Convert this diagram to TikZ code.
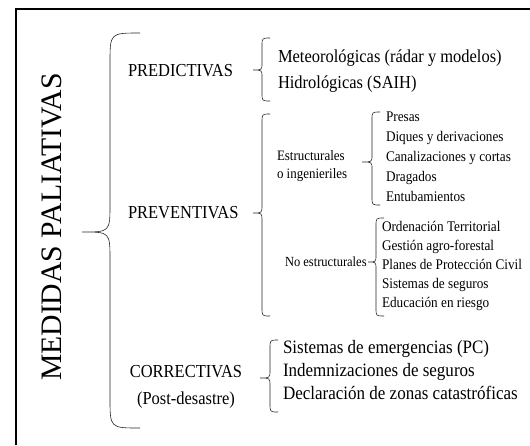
\documentclass[tikz,border=0pt]{standalone}
\usepackage{fontspec}
\setmainfont{Liberation Serif}
\newfontfamily\narrowserif[FakeStretch=0.9]{Liberation Serif}
\newcommand\fs[2]{\narrowserif\fontsize{#1}{#2}\selectfont}
% #1 tip x, #2 vertical x, #3 end x, #4 top y, #5 tip y, #6 bottom y, #7 curl size, #8 tip size
\newcommand\mybrace[8]{%
  \draw[bracestyle] (#3,#4) .. controls (#2,#4) .. (#2,#4+#7) -- (#2,#5-#8)
    .. controls (#2,#5) .. (#1,#5) .. controls (#2,#5) .. (#2,#5+#8)
    -- (#2,#6-#7) .. controls (#2,#6) .. (#3,#6);}
\begin{document}
\begin{tikzpicture}[x=1pt,y=-1pt,
  bracestyle/.style={line width=0.6pt,black!85},
  txt/.style={inner sep=0pt,outer sep=0pt,align=left,anchor=west},
  big/.style={txt,font=\fs{18.3}{26}},
  small/.style={txt,font=\fs{14.7}{20}}]
\useasboundingbox (0,0) rectangle (530,445);
\fill[white] (0,0) rectangle (530,445);
% frame
\draw[line width=1.3pt] (16,445) -- (16,9) -- (530,9);
% title
\node[inner sep=0pt,rotate=90,font=\fontsize{29.7}{32}\selectfont] (title) at (52,227) {MEDIDAS PALIATIVAS};
% main brace
\mybrace{82}{110}{140}{33}{232}{428}{30}{28}
% categories
\node[big] (pred) at (128,71) {PREDICTIVAS};
\node[big] (prev) at (128,213) {PREVENTIVAS};
\node[inner sep=0pt,align=center,font=\fs{18.3}{27}] (corr) at (186,387) {CORRECTIVAS\\(Post-desastre)};
% predictivas
\mybrace{253}{262}{270}{38}{70}{101}{8}{7}
\node[big] (predl) at (278,71) {Meteorológicas (rádar y modelos)\\Hidrológicas (SAIH)};
% preventivas
\mybrace{253}{262}{270}{114}{213}{316}{9}{8}
\node[txt,font=\fs{14.4}{18}] (estr) at (277,166) {Estructurales\\o ingenieriles};
\mybrace{362}{372}{380}{112}{162}{205}{8}{7}
\node[small] (estrl) at (386,157) {Presas\\Diques y derivaciones\\Canalizaciones y cortas\\Dragados\\Entubamientos};
\node[txt,font=\fs{13.9}{18}] (noestr) at (285,262) {No estructurales};
\mybrace{368}{376}{384}{218}{262}{316}{8}{7}
\node[txt,font=\fs{14.7}{19}] (noestrl) at (382,266) {Ordenación Territorial\\Gestión agro-forestal\\Planes de Protección Civil\\Sistemas de seguros\\Educación en riesgo};
% correctivas
\mybrace{260}{270}{278}{340}{378}{412}{9}{8}
\node[txt,font=\fs{18.9}{23}] (corrl) at (283,370) {Sistemas de emergencias (PC)\\Indemnizaciones de seguros\\Declaración de zonas catastróficas};
\end{tikzpicture}
\end{document}
